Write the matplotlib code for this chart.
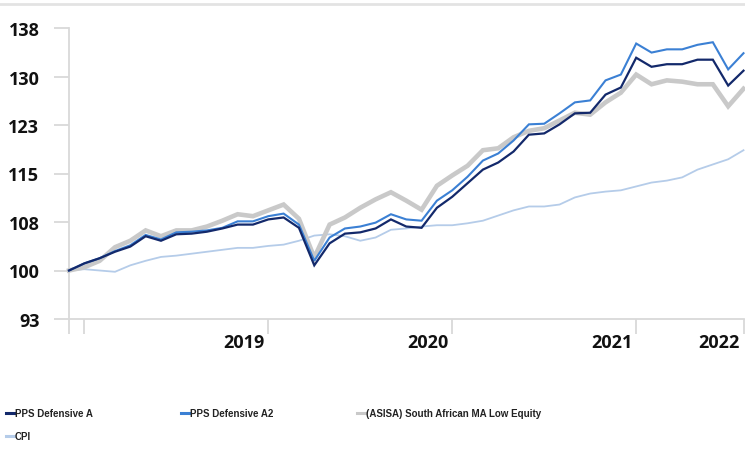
import numpy as np
import matplotlib.pyplot as plt
from matplotlib.lines import Line2D
from matplotlib import font_manager

# monthly index values (month 0 = start of series)
defensive_a = [100.0, 101.1, 101.9, 102.9, 103.7, 105.3, 104.6, 105.6, 105.7, 106.0,
               106.5, 107.1, 107.1, 107.9, 108.2, 106.6, 100.8, 104.2, 105.7, 105.9,
               106.5, 107.9, 106.8, 106.6, 109.7, 111.4, 113.5, 115.6, 116.7, 118.4,
               121.0, 121.2, 122.6, 124.3, 124.4, 127.2, 128.3, 132.9, 131.5, 131.9,
               131.9, 132.6, 132.6, 128.6, 130.9]
defensive_a2 = [100.0, 101.1, 101.9, 103.0, 103.9, 105.5, 104.8, 105.9, 106.0, 106.2,
                106.6, 107.6, 107.6, 108.4, 108.8, 107.1, 101.5, 105.1, 106.5, 106.8,
                107.4, 108.7, 107.9, 107.7, 110.8, 112.4, 114.5, 117.0, 118.1, 120.1,
                122.6, 122.7, 124.3, 126.0, 126.3, 129.4, 130.3, 135.1, 133.7, 134.2,
                134.2, 134.9, 135.3, 131.1, 133.6]
asisa_low_eq = [100.0, 100.5, 101.5, 103.6, 104.6, 106.2, 105.3, 106.2, 106.2, 106.8,
                107.7, 108.7, 108.4, 109.3, 110.2, 108.0, 102.0, 107.1, 108.2, 109.7,
                111.0, 112.1, 110.8, 109.4, 113.1, 114.7, 116.2, 118.6, 118.9, 120.6,
                121.6, 122.0, 123.2, 124.4, 124.1, 126.0, 127.5, 130.3, 128.8, 129.4,
                129.2, 128.8, 128.8, 125.4, 128.1]
cpi = [100.0, 100.2, 100.0, 99.8, 100.8, 101.5, 102.1, 102.3, 102.6, 102.9,
       103.2, 103.5, 103.5, 103.8, 104.0, 104.6, 105.4, 105.6, 105.3, 104.6,
       105.1, 106.3, 106.5, 106.8, 107.0, 107.0, 107.3, 107.7, 108.5, 109.3,
       109.9, 109.9, 110.2, 111.3, 111.9, 112.2, 112.4, 113.0, 113.6, 113.9,
       114.4, 115.6, 116.4, 117.2, 118.6]

series_names = ['PPS Defensive A', 'PPS Defensive A2',
                '(ASISA) South African MA Low Equity', 'CPI']
series_values = [defensive_a, defensive_a2, asisa_low_eq, cpi]

year_labels = ['2019', '2020', '2021', '2022']
year_label_pos = [13, 25, 37, 44]
x_tick_pos = [0, 1, 13, 25, 37, 44]
y_ticks = [92.5, 100, 107.5, 115, 122.5, 130, 137.5]

# styles
colors = ['#13296b', '#3b80d4', '#c9c9c9', '#b5cce9']
widths = [1.6, 1.5, 3.3, 1.3]
zorders = [5, 4, 3, 2]
AXIS_GREY = '#d9d9d9'
TEXT = '#111111'

avail = {f.name for f in font_manager.fontManager.ttflist}
num_font = 'Open Sans' if 'Open Sans' in avail else 'DejaVu Sans'
leg_font = 'Liberation Sans Narrow' if 'Liberation Sans Narrow' in avail else 'Liberation Sans'

W, H = 745, 452
fig = plt.figure(figsize=(W / 100, H / 100), dpi=100)
ax = fig.add_axes([69 / W, 1 - 320 / H, (743.5 - 69) / W, (320 - 29) / H])

x = np.arange(len(cpi))
for vals, c, lw, z in zip(series_values, colors, widths, zorders):
    ax.plot(x, vals, color=c, lw=lw, zorder=z, solid_joinstyle='miter',
            clip_on=False)

ax.set_xlim(0, 44)
ax.set_ylim(92.5, 137.5)

for s in ['top', 'right']:
    ax.spines[s].set_visible(False)
for s in ['left', 'bottom']:
    ax.spines[s].set_color(AXIS_GREY)
    ax.spines[s].set_linewidth(1.3)

# labels are the rounded tick values, as in the source (92.5 -> 93 ...)
ax.set_yticks(y_ticks)
ax.set_yticklabels([f"{v:.0f}" if v % 1 == 0 else f"{v + 0.5:.0f}" for v in y_ticks],
                   fontfamily=num_font, fontweight='bold', fontsize=13, color=TEXT)
ax.tick_params(axis='y', length=10.8, width=1.3, color=AXIS_GREY, pad=10.5)

ax.set_xticks(x_tick_pos)
ax.set_xticklabels([])
ax.tick_params(axis='x', length=10.8, width=1.3, color=AXIS_GREY)

for lab, pos in zip(year_labels, year_label_pos):
    ax.annotate(lab, xy=(pos, 0), xycoords=('data', 'axes fraction'),
                xytext=(-4, -23), textcoords='offset pixels',
                ha='right', va='center', fontfamily=num_font,
                fontweight='bold', fontsize=13, color=TEXT)

# legend, laid out by hand like the source
leg_xy = [(6, 414), (181, 414), (357, 414), (6, 437)]
for (lx, ly), name, c in zip(leg_xy, series_names, colors):
    fig.add_artist(Line2D([lx / W, (lx + 7.5) / W], [1 - ly / H, 1 - ly / H],
                          transform=fig.transFigure, color=c, lw=2.2))
    fig.text((lx + 9) / W, 1 - ly / H, name, ha='left', va='center',
             fontfamily=[leg_font, 'DejaVu Sans'], fontweight='bold',
             fontsize=7, color='#222222')

# thin frame line across the top
fig.add_artist(Line2D([0, 1], [1 - 5 / H, 1 - 5 / H], transform=fig.transFigure,
                      color='#e3e3e3', lw=2))

fig.savefig('out.png', dpi=100)
